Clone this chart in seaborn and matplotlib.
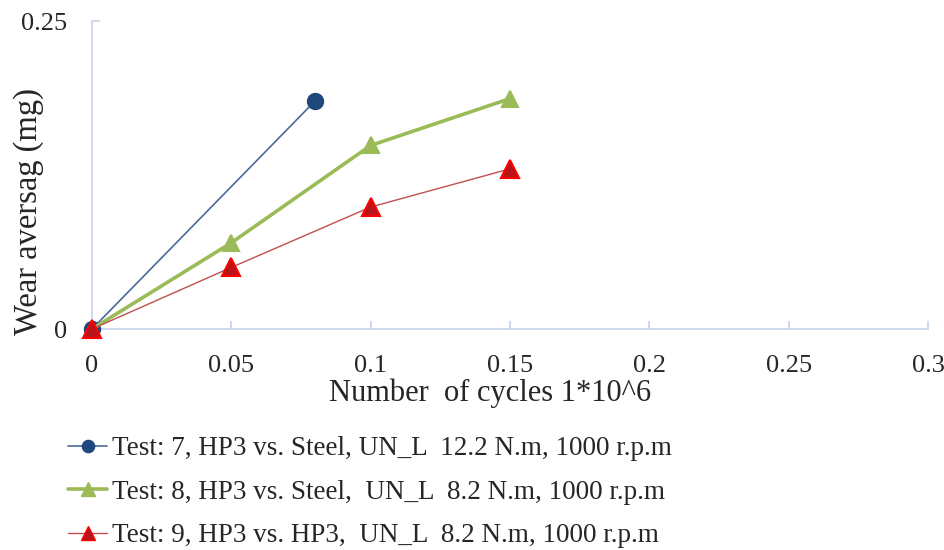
import matplotlib
matplotlib.use("Agg")
import matplotlib.pyplot as plt
import seaborn as sns
import pandas as pd
from matplotlib.lines import Line2D

sns.set_theme(style="white")
plt.rcParams["font.family"] = ["Liberation Serif", "DejaVu Serif"]

# Wear measurements per test (cycles in millions, wear in mg)
cycles_t7 = [0.0, 0.08]
wear_t7 = [0.0, 0.185]
cycles_t8 = [0.0, 0.05, 0.10, 0.15]
wear_t8 = [0.0, 0.070, 0.149, 0.187]
cycles_t9 = [0.0, 0.05, 0.10, 0.15]
wear_t9 = [0.0, 0.050, 0.099, 0.130]

labels = [
    "Test: 7, HP3 vs. Steel, UN_L  12.2 N.m, 1000 r.p.m",
    "Test: 8, HP3 vs. Steel,  UN_L  8.2 N.m, 1000 r.p.m",
    "Test: 9, HP3 vs. HP3,  UN_L  8.2 N.m, 1000 r.p.m",
]
x_ticks = [0, 0.05, 0.1, 0.15, 0.2, 0.25, 0.3]
x_tick_labels = ["0", "0.05", "0.1", "0.15", "0.2", "0.25", "0.3"]
y_ticks = [0, 0.25]
y_tick_labels = ["0", "0.25"]

styles = [
    dict(color="#4a6a9a", lw=1.2, marker="o", ms=11, mfc="#1f497d", mec="#1f497d"),
    dict(color="#9bbb59", lw=2.6, marker="^", ms=12, mfc="#9bbb59", mec="#9bbb59"),
    dict(color="#c0504d", lw=1.0, marker="^", ms=13, mfc="#b8141a", mec="#ff0000"),
]

fig = plt.figure(figsize=(9.45, 5.5), dpi=100)
ax = fig.add_axes([92 / 945, 1 - 329 / 550, (928 - 92) / 945, (329 - 21) / 550])

series = [(cycles_t7, wear_t7), (cycles_t8, wear_t8), (cycles_t9, wear_t9)]
for (xs, ys), lab, st in zip(series, labels, styles):
    df = pd.DataFrame({"cycles": xs, "wear": ys})
    sns.lineplot(data=df, x="cycles", y="wear", ax=ax, color=st["color"],
                 linewidth=st["lw"], marker=st["marker"], markersize=st["ms"],
                 markerfacecolor=st["mfc"], markeredgecolor=st["mec"],
                 markeredgewidth=1.5, clip_on=False, zorder=3)

ax.set_xlim(0, 0.3)
ax.set_ylim(0, 0.25)
ax.set_xticks(x_ticks)
ax.set_xticklabels(x_tick_labels)
ax.set_yticks(y_ticks)
ax.set_yticklabels(y_tick_labels)

axis_col = "#c6d4ea"
for side in ["top", "right"]:
    ax.spines[side].set_visible(False)
for side in ["left", "bottom"]:
    ax.spines[side].set_color(axis_col)
    ax.spines[side].set_linewidth(1.2)
ax.tick_params(axis="x", direction="in", length=6, width=1.2, color=axis_col,
               labelsize=19, pad=19, bottom=True)
ax.tick_params(axis="y", direction="in", length=6, width=1.2, color=axis_col,
               labelsize=19, pad=18, left=True)

ax.set_xlabel("Number  of cycles 1*10^6", fontsize=22)
ax.set_ylabel("Wear aversag (mg)", fontsize=23.5)
ax.xaxis.set_label_coords(0.476, -0.162)
ax.yaxis.set_label_coords(-0.058, 0.38)

handles = [Line2D([], [], color=st["color"], lw=st["lw"], marker=st["marker"],
                  markersize=st["ms"] * 0.8, markerfacecolor=st["mfc"],
                  markeredgecolor=st["mec"]) for st in styles]
fig.legend(handles, labels, loc="upper left", bbox_to_anchor=(0.072, 0.207),
           frameon=False, fontsize=19.5, handlelength=1.45, handletextpad=0.18,
           labelspacing=0.68, borderaxespad=0, borderpad=0)

fig.savefig("out.png", dpi=100)
